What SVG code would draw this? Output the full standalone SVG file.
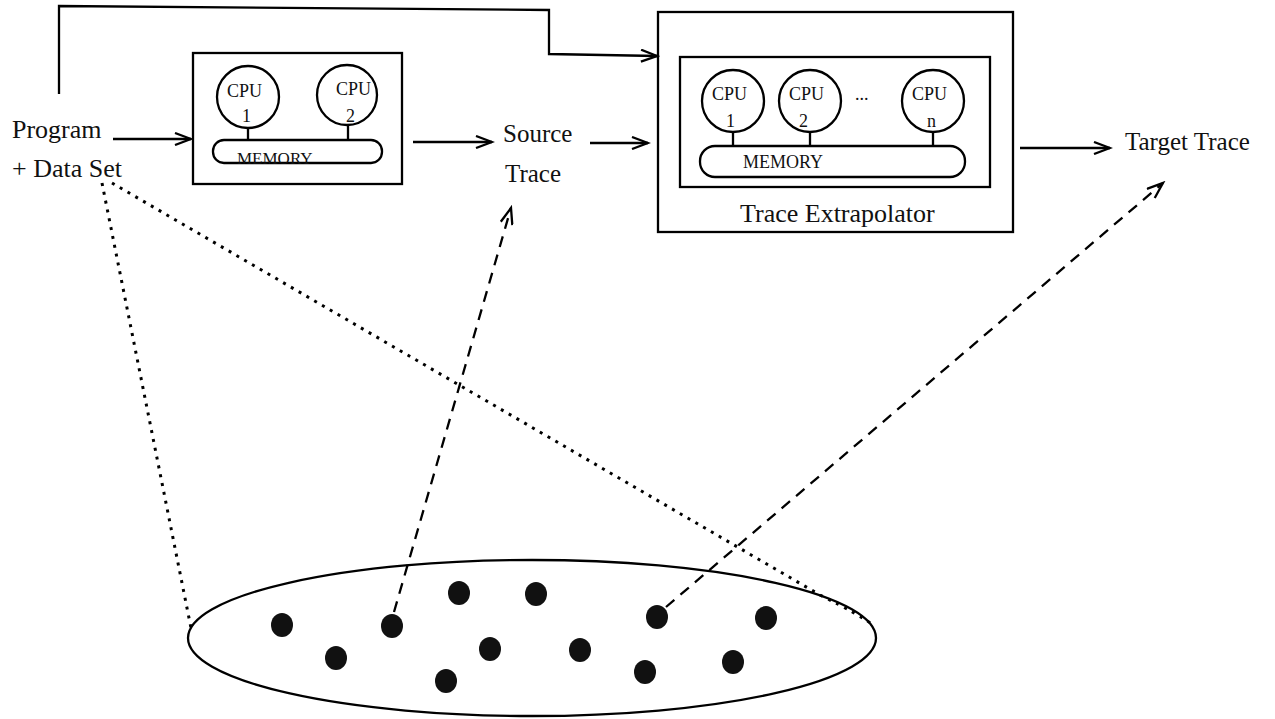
<svg xmlns="http://www.w3.org/2000/svg" width="1275" height="719" viewBox="0 0 1275 719">
<style>
.ln{fill:none;stroke:#000;stroke-width:2.3}
.box{fill:none;stroke:#000;stroke-width:2.3}
.lbl{font-family:"Liberation Serif",serif;font-size:25px;fill:#111}
.cpu{font-family:"Liberation Serif",serif;font-size:18px;fill:#111}
.dot{fill:#111}
.dotted{fill:none;stroke:#000;stroke-width:3;stroke-dasharray:3 6}
.dashed{fill:none;stroke:#000;stroke-width:2.3;stroke-dasharray:11 8}
</style>
<defs>
<marker id="arr" markerUnits="userSpaceOnUse" markerWidth="20" markerHeight="14" refX="17" refY="7" orient="auto">
<path d="M1,1 L17,7 L1,13" fill="none" stroke="#000" stroke-width="2.3"/>
</marker>
</defs>
<rect width="1275" height="719" fill="#fff"/>

<g id="program">
<text class="lbl" x="12" y="138" style="font-size:26px">Program</text>
<text class="lbl" x="12" y="177" style="font-size:26px">+ Data Set</text>
</g>

<g id="source-machine">
<rect class="box" x="193" y="53" width="209" height="131"/>
<circle class="ln" cx="248" cy="97" r="31"/>
<text class="cpu" x="227" y="97">CPU</text>
<text class="cpu" x="242" y="122">1</text>
<line class="ln" x1="248" y1="128" x2="248" y2="140"/>
<circle class="ln" cx="347" cy="95" r="30"/>
<text class="cpu" x="336" y="95">CPU</text>
<text class="cpu" x="346" y="122">2</text>
<line class="ln" x1="348" y1="125" x2="348" y2="140"/>
<rect class="ln" x="213" y="140" width="169" height="23" rx="11"/>
<text class="cpu" x="237" y="164" style="font-size:17px">MEMORY</text>
</g>

<g id="source-trace">
<text class="lbl" x="503" y="142">Source</text>
<text class="lbl" x="505" y="182">Trace</text>
</g>

<g id="trace-extrapolator">
<rect class="box" x="658" y="12" width="355" height="220"/>
<rect class="box" x="680" y="57" width="310" height="130"/>
<circle class="ln" cx="733" cy="101" r="31"/>
<text class="cpu" x="712" y="100">CPU</text>
<text class="cpu" x="726" y="127">1</text>
<line class="ln" x1="733" y1="132" x2="733" y2="146"/>
<circle class="ln" cx="810" cy="101" r="31"/>
<text class="cpu" x="789" y="100">CPU</text>
<text class="cpu" x="799" y="127">2</text>
<line class="ln" x1="810" y1="132" x2="810" y2="146"/>
<text class="cpu" x="855" y="100">...</text>
<circle class="ln" cx="933" cy="101" r="31"/>
<text class="cpu" x="912" y="100">CPU</text>
<text class="cpu" x="927" y="127">n</text>
<line class="ln" x1="933" y1="132" x2="933" y2="146"/>
<rect class="ln" x="700" y="146" width="265" height="31" rx="15"/>
<text class="cpu" x="743" y="168">MEMORY</text>
<text class="lbl" x="740" y="222" style="font-size:26px">Trace Extrapolator</text>
</g>

<g id="target-trace">
<text class="lbl" x="1125" y="150">Target Trace</text>
</g>

<g id="data-space">
<ellipse class="ln" cx="532" cy="638" rx="344" ry="78"/>
<ellipse class="dot" cx="282" cy="625" rx="11" ry="12"/>
<ellipse class="dot" cx="336" cy="658" rx="11" ry="12"/>
<ellipse class="dot" cx="392" cy="626" rx="11" ry="12"/>
<ellipse class="dot" cx="459" cy="593" rx="11" ry="12"/>
<ellipse class="dot" cx="536" cy="594" rx="11" ry="12"/>
<ellipse class="dot" cx="490" cy="649" rx="11" ry="12"/>
<ellipse class="dot" cx="446" cy="681" rx="11" ry="12"/>
<ellipse class="dot" cx="580" cy="650" rx="11" ry="12"/>
<ellipse class="dot" cx="657" cy="617" rx="11" ry="12"/>
<ellipse class="dot" cx="766" cy="618" rx="11" ry="12"/>
<ellipse class="dot" cx="733" cy="662" rx="11" ry="12"/>
<ellipse class="dot" cx="645" cy="672" rx="11" ry="12"/>
</g>

<g id="connectors">
<path class="ln" d="M59,94 L59,6 L549,10 L549,54 L657,56" marker-end="url(#arr)"/>
<line class="ln" x1="113" y1="139" x2="191" y2="139" marker-end="url(#arr)"/>
<line class="ln" x1="413" y1="142" x2="492" y2="142" marker-end="url(#arr)"/>
<line class="ln" x1="590" y1="143" x2="648" y2="143" marker-end="url(#arr)"/>
<line class="ln" x1="1020" y1="148" x2="1110" y2="148" marker-end="url(#arr)"/>
<line class="dashed" x1="394" y1="612" x2="511" y2="208" marker-end="url(#arr)"/>
<line class="dashed" x1="666" y1="607" x2="1163" y2="183" marker-end="url(#arr)"/>
<line class="dotted" x1="102" y1="183" x2="191" y2="628"/>
<path class="dotted" d="M112,183 L820,595 Q860,615 873,625"/>
</g>
</svg>
